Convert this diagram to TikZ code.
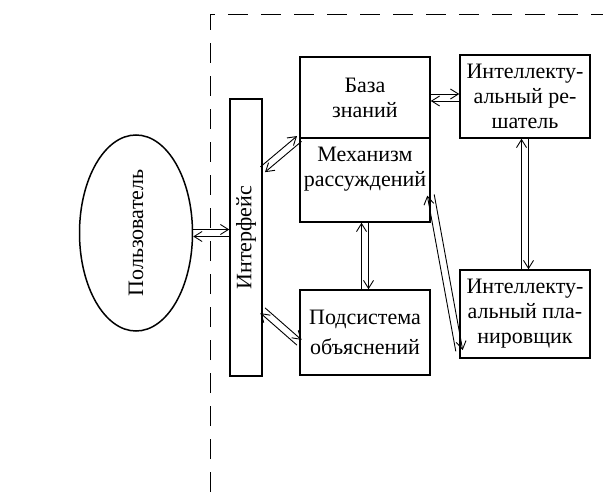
\documentclass[tikz,border=0pt]{standalone}
\usepackage{fontspec}
\setmainfont{Liberation Serif}
\usetikzlibrary{calc,arrows.meta,shapes.geometric}

\tikzset{
  blok/.style={draw,line width=1.5pt,minimum width=130pt,align=center,inner sep=0pt,
    font=\fontsize{22}{25}\selectfont},
  strelka/.style={line width=0.9pt,-{Straight Barb[length=8pt,width=10pt,line width=0.9pt]}},
}
% dve parallelnye strelki mezhdu tochkami
\newcommand{\dvestrelki}[2]{%
  \draw[strelka] ($(#1)!3.5pt!90:(#2)$) -- ($(#2)!3.5pt!-90:(#1)$);
  \draw[strelka] ($(#2)!3.5pt!90:(#1)$) -- ($(#1)!3.5pt!-90:(#2)$);
}

\begin{document}
\begin{tikzpicture}[x=1pt,y=-1pt]
  \useasboundingbox (0,0) rectangle (603,500);
  % Granica sistemy
  \draw[line width=1pt,dash pattern=on 20pt off 13pt] (210,492) -- (210,15) -- (603,15);
  % Polzovatel i interfejs
  \node[draw,ellipse,line width=1.5pt,minimum width=113pt,minimum height=196pt,inner sep=0pt,
    font=\fontsize{22}{25}\selectfont] (polz) at (136,233) {\rotatebox{90}{Пользователь}};
  \node[blok,minimum width=32pt,minimum height=277pt] (interf) at (246,237.5) {\rotatebox{90}{Интерфейс}};
  % Bloki
  \node[blok,minimum height=81pt] (baza) at (365,97.5) {База\\знаний};
  \node[blok,minimum height=84pt] (mehan) at (365,180) {Механизм\\рассуждений\\[2pt]};
  \node[blok,minimum height=83pt] (reshat) at (525,96.5) {Интеллекту-\\альный ре-\\шатель};
  \node[blok,minimum height=85pt,font=\fontsize{22}{30}\selectfont] (podsist) at (365,332.5) {Подсистема\\объяснений};
  \node[blok,minimum height=88pt] (planir) at (525,314) {Интеллекту-\\альный пла-\\нировщик};
  % Svyazi
  \coordinate (i1) at ($(interf.east)+(0,-68)$);
  \coordinate (i2) at ($(interf.east)+(0,73)$);
  \coordinate (p1) at ($(podsist.west)+(0,10)$);
  \coordinate (m1) at ($(mehan.east)+(0,15)$);
  \coordinate (pl1) at ($(planir.south west)+(0,-8)$);
  \dvestrelki{polz.east}{polz.east -| interf.west}
  \dvestrelki{i1}{baza.south west}
  \dvestrelki{i2}{p1}
  \dvestrelki{mehan.south}{podsist.north}
  \dvestrelki{baza.east}{baza.east -| reshat.west}
  \dvestrelki{reshat.south}{planir.north}
  \dvestrelki{m1}{pl1}
\end{tikzpicture}
\end{document}
